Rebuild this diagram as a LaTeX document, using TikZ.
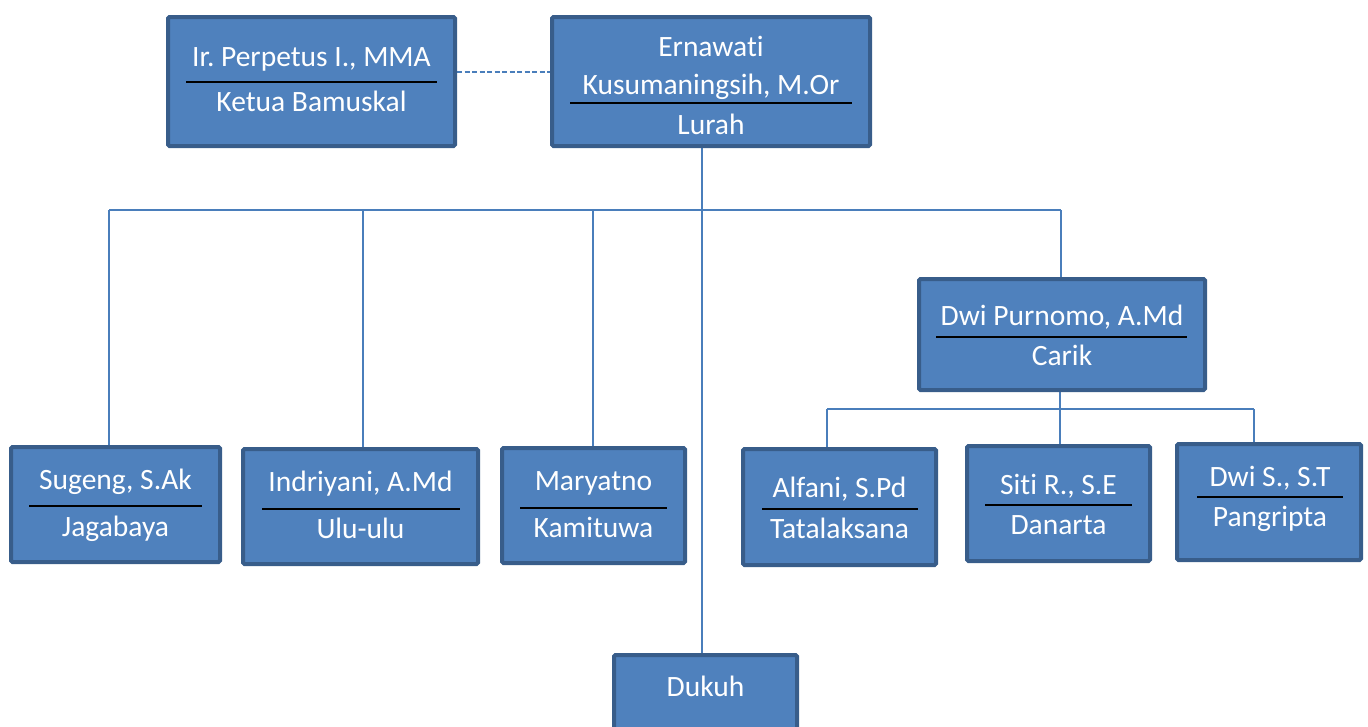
\documentclass[tikz,border=0pt]{standalone}
\usepackage{fontspec}
\setmainfont{Carlito}[Ligatures=NoCommon]
\usetikzlibrary{backgrounds}
\definecolor{boxfill}{HTML}{4F81BD}
\definecolor{boxborder}{HTML}{385D8A}
\definecolor{connc}{HTML}{4A7EBB}
\frenchspacing
\begin{document}
\begin{tikzpicture}[x=1pt,y=-1pt,
  box/.style={draw=boxborder, fill=boxfill, line width=4pt, rounded corners=1.5pt, inner sep=0pt},
  lbl/.style={text=white, font=\fontsize{29.5}{35}\selectfont\frenchspacing, inner sep=0pt, anchor=base},
  rulebar/.style={line width=2pt, black},
  conn/.style={draw=connc, line width=1.5pt}]
\useasboundingbox (0,0) rectangle (1368,726);
\clip (0,0) rectangle (1368,726);
% boxes
\node[box, minimum width=287, minimum height=129] (perp) at (311.5,81.5) {};
\node[box, minimum width=318, minimum height=129] (lurah) at (711,81.5) {};
\node[box, minimum width=286, minimum height=111] (carik) at (1062,334.5) {};
\node[box, minimum width=209, minimum height=115] (sugeng) at (115.5,504.5) {};
\node[box, minimum width=235, minimum height=115] (indri) at (360.5,506.5) {};
\node[box, minimum width=183, minimum height=115] (mary) at (593.5,505.5) {};
\node[box, minimum width=193, minimum height=116] (alfani) at (839.5,507) {};
\node[box, minimum width=183, minimum height=115] (siti) at (1058.5,503.5) {};
\node[box, minimum width=184, minimum height=116] (dwis) at (1269,502) {};
\node[box, minimum width=183, minimum height=113] (dukuh) at (705.5,711.5) {};
% connectors
\begin{scope}[on background layer]
\coordinate (dy) at (0,72);
\draw[conn, line width=2pt, dash pattern=on 5pt off 2.5pt] (perp.east |- dy) -- (lurah.west |- dy);
\coordinate (lx) at (702,210);
\draw[conn] (lurah.south -| lx) -- (dukuh.north -| lx);
\coordinate (b1) at (109,210);
\coordinate (b2) at (363,210);
\coordinate (b3) at (593,210);
\coordinate (b4) at (1061,210);
\draw[conn] (b1) -- (b4);
\draw[conn] (b1) -- (sugeng.north -| b1);
\draw[conn] (b2) -- (indri.north -| b2);
\draw[conn] (b3) -- (mary.north -| b3);
\draw[conn] (b4) -- (carik.north -| b4);
\coordinate (c1) at (827,409);
\coordinate (c2) at (1060,409);
\coordinate (c3) at (1254,409);
\draw[conn] (c1) -- (c3);
\draw[conn] (carik.south -| c2) -- (siti.north -| c2);
\draw[conn] (c1) -- (alfani.north -| c1);
\draw[conn] (c3) -- (dwis.north -| c3);
\end{scope}
% texts
\node[lbl] (perpA) at (311.5,66.5) {Ir. Perpetus I., MMA};
\draw[rulebar] (186,82) -- (437,82);
\node[lbl] (perpB) at (311.5,111.5) {Ketua Bamuskal};
\node[lbl] (lurahA) at (711,56) {Ernawati};
\node[lbl] (lurahB) at (711,94) {Kusumaningsih, M.Or};
\draw[rulebar] (570,103) -- (852,103);
\node[lbl] (lurahC) at (711,134) {Lurah};
\node[lbl] (carikA) at (1062,325) {Dwi Purnomo, A.Md};
\draw[rulebar] (936,337) -- (1187,337);
\node[lbl] (carikB) at (1062,365) {Carik};
\node[lbl] (sugengA) at (115.5,489) {Sugeng, S.Ak};
\draw[rulebar] (29,506) -- (202,506);
\node[lbl] (sugengB) at (115.5,536) {Jagabaya};
\node[lbl] (indriA) at (360.5,491) {Indriyani, A.Md};
\draw[rulebar] (262,509) -- (460,509);
\node[lbl] (indriB) at (360.5,538) {Ulu-ulu};
\node[lbl] (maryA) at (593.5,490) {Maryatno};
\draw[rulebar] (520,508) -- (667,508);
\node[lbl] (maryB) at (593.5,537) {Kamituwa};
\node[lbl] (alfaniA) at (839.5,497) {Alfani, S.Pd};
\draw[rulebar] (762,509) -- (918,509);
\node[lbl] (alfaniB) at (839.5,538) {Tatalaksana};
\node[lbl] (sitiA) at (1058.5,494) {Siti R., S.E};
\draw[rulebar] (985,505) -- (1132,505);
\node[lbl] (sitiB) at (1058.5,534) {Danarta};
\node[lbl] (dwisA) at (1270,486) {Dwi S., S.T};
\draw[rulebar] (1197,497) -- (1343,497);
\node[lbl] (dwisB) at (1270,526) {Pangripta};
\node[lbl] (dukuhA) at (705.5,696) {Dukuh};
\end{tikzpicture}
\end{document}
